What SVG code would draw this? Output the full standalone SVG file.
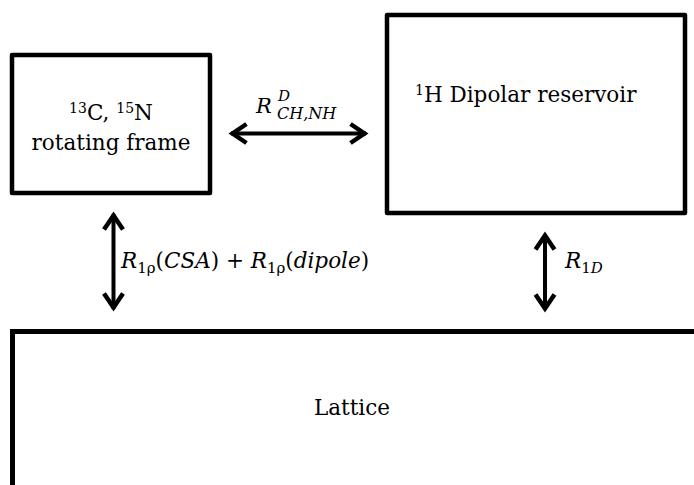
<svg xmlns="http://www.w3.org/2000/svg" width="694" height="485" viewBox="0 0 694 485">
<style>
.box{fill:#fff;stroke:#000;stroke-width:4.5;stroke-linejoin:round}
.lbl{font-family:"DejaVu Serif","Liberation Serif",serif;font-size:21.5px;fill:#000}
.math{font-family:"DejaVu Serif","Liberation Serif",serif;font-size:21.5px;fill:#000}
.it{font-style:italic}
.con{stroke:#000;stroke-width:4;fill:none;marker-start:url(#chev);marker-end:url(#chev)}
</style>
<defs>
<marker id="chev" markerUnits="userSpaceOnUse" viewBox="-22 -15 30 30" markerWidth="30" markerHeight="30" refX="0" refY="0" orient="auto-start-reverse">
<path d="M-15.5,-9.5 L-1.5,0 L-15.5,9.5" fill="none" stroke="#000" stroke-width="4.5" stroke-linejoin="miter"/>
</marker>
</defs>
<rect width="694" height="485" fill="#fff"/>
<g id="node-rotating">
<rect class="box" x="12" y="55" width="198" height="138"/>
<text class="lbl" x="111" y="120" text-anchor="middle"><tspan font-size="14" dy="-7">13</tspan><tspan dy="7">C, </tspan><tspan font-size="14" dy="-7">15</tspan><tspan dy="7">N</tspan></text>
<text class="lbl" x="111" y="150" text-anchor="middle">rotating frame</text>
</g>
<g id="node-dipolar">
<rect class="box" x="387" y="15" width="298" height="198"/>
<text class="lbl" x="415" y="102"><tspan font-size="14" dy="-7">1</tspan><tspan dy="7">H Dipolar reservoir</tspan></text>
</g>
<g id="node-lattice">
<path d="M12.5,485 V331.5 H694" fill="none" stroke="#000" stroke-width="5"/>
<text class="lbl" x="352" y="415" text-anchor="middle">Lattice</text>
</g>
<g id="connectors">
<line class="con" x1="231" y1="133.5" x2="366" y2="133.5"/>
<line class="con" x1="113.5" y1="214" x2="113.5" y2="309"/>
<line class="con" x1="545" y1="234" x2="545" y2="310"/>
</g>
<g id="labels">
<text class="math it" x="256" y="113" style="font-size:21px">R<tspan x="278" y="101" style="font-size:15px">D</tspan><tspan x="277" y="118.5" style="font-size:16px">CH,NH</tspan></text>
<text class="math" x="121" y="268"><tspan class="it">R</tspan><tspan font-size="15" dy="5">1ρ</tspan><tspan dy="-5">(</tspan><tspan class="it">CSA</tspan><tspan>) + </tspan><tspan class="it">R</tspan><tspan font-size="15" dy="5">1ρ</tspan><tspan dy="-5">(</tspan><tspan class="it">dipole</tspan><tspan>)</tspan></text>
<text class="math" x="565" y="268"><tspan class="it">R</tspan><tspan font-size="15" dy="5">1</tspan><tspan class="it" font-size="15">D</tspan></text>
</g>
</svg>
